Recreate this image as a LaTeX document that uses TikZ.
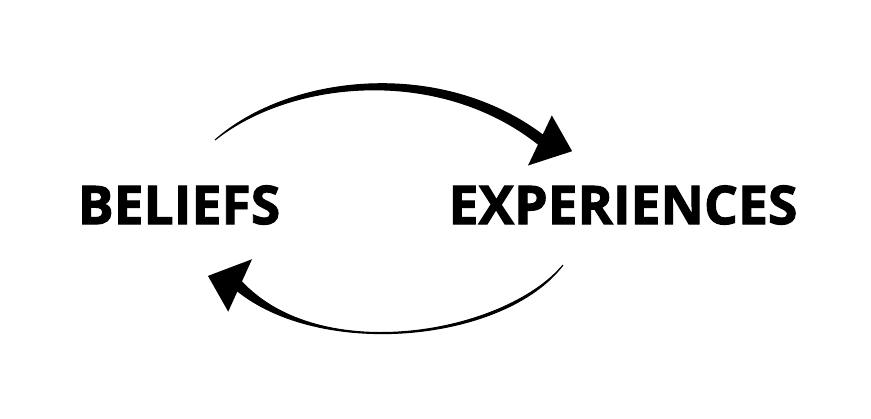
\documentclass[tikz,border=0pt]{standalone}
\usepackage{fontspec}
\usepackage{tikz}
\usetikzlibrary{
    calc,
    positioning
}
\newfontfamily\conceptfont{Open Sans}[BoldFeatures={FakeBold=1.8}]
\definecolor{ink}{RGB}{0,0,0}
\tikzset{
    line cap=round,
    line join=round,
    concept/.style={
        font=\conceptfont\bfseries\fontsize{15.2}{18}\selectfont,
        text=ink,
        inner sep=0pt
    },
    shaft/.style={
        fill=ink,
        draw=ink,
        line width=0.3pt
    },
    head/.style={
        fill=ink,
        draw=ink,
        line width=1.2pt
    }
}

\begin{document}
\begin{tikzpicture}[x=0.01cm, y=-0.01cm]
\useasboundingbox (0,0) rectangle (871,419);

% Concepts
\node[concept] (beliefs) at (179,205) {BELIEFS};
\node[concept] (experiences) at (623,205) {EXPERIENCES};

% Free ends of the two arcs
\coordinate (topstart) at (215,140);
\coordinate (toptip) at (569,150);
\coordinate (botstart) at (563,265);
\coordinate (bottip) at (211,277);

% Upper arc: beliefs -> experiences
\fill[shaft] (topstart) .. controls (290,74) and (442,58) .. (544,136)
    -- (538,144) .. controls (438,65) and (290,80) .. (topstart) -- cycle;
\filldraw[head] (toptip) -- (552,120) -- (532,162) -- cycle;

% Lower arc: experiences -> beliefs
\fill[shaft] (botstart) .. controls (505,334) and (320,367) .. (241,281)
    -- (235,289) .. controls (320,360) and (505,342) .. (botstart) -- cycle;
\filldraw[head] (bottip) -- (248,263) -- (228,307) -- cycle;
\end{tikzpicture}
\end{document}
